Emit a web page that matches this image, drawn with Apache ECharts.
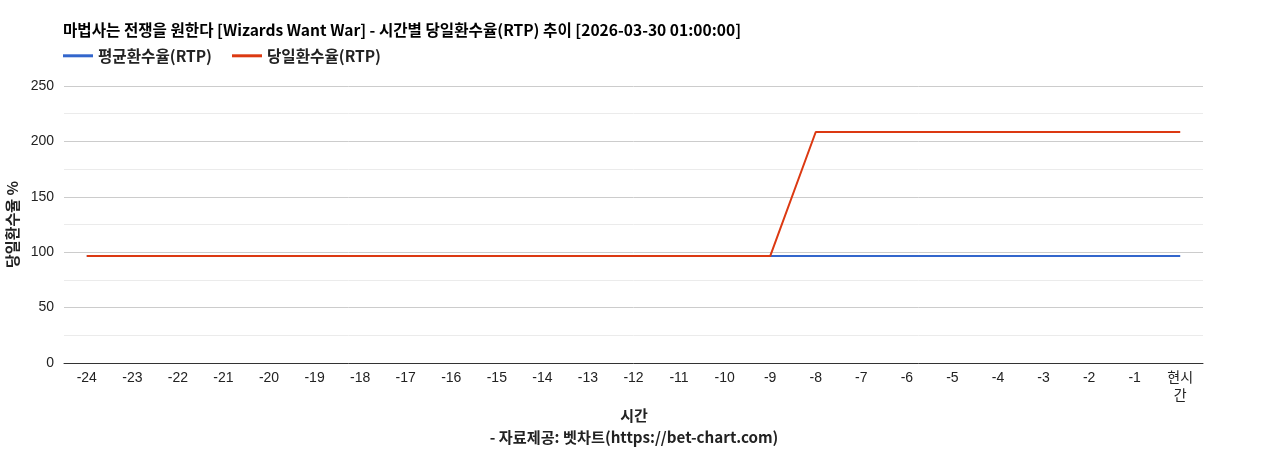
<!DOCTYPE html>
<html><head><meta charset="utf-8">
<script src="https://cdn.jsdelivr.net/npm/echarts@6/dist/echarts.min.js"></script>
<style>html,body{margin:0;padding:0;background:#fff}#c{width:1268px;height:450px}</style>
</head><body><div id="c"></div>
<script>
const categories = ['-24','-23','-22','-21','-20','-19','-18','-17','-16','-15','-14','-13','-12','-11','-10','-9','-8','-7','-6','-5','-4','-3','-2','-1','현시간'];
const avgRtp = [96.5,96.5,96.5,96.5,96.5,96.5,96.5,96.5,96.5,96.5,96.5,96.5,96.5,96.5,96.5,96.5,96.5,96.5,96.5,96.5,96.5,96.5,96.5,96.5,96.5];
const dayRtp = [96.5,96.5,96.5,96.5,96.5,96.5,96.5,96.5,96.5,96.5,96.5,96.5,96.5,96.5,96.5,96.5,208.5,208.5,208.5,208.5,208.5,208.5,208.5,208.5,208.5];
const yTicks = [0,50,100,150,200,250];
const FONT = '"Liberation Sans","Noto Sans CJK KR",Arial,sans-serif';
const BFONT = '"Noto Sans CJK KR","Noto Sans",sans-serif';
const chart = echarts.init(document.getElementById('c'));
chart.setOption({
  animation:false,
  textStyle:{fontFamily:FONT},
  title:[
    {text:'마법사는 전쟁을 원한다 [Wizards Want War] - 시간별 당일환수율(RTP) 추이 [2026-03-30 01:00:00]',left:58,top:17,textStyle:{fontSize:15.6,fontWeight:'bold',color:'#000',fontFamily:BFONT}},
    {text:'시간',left:'center',top:403,textStyle:{fontSize:15,fontWeight:'bold',color:'#222',fontFamily:BFONT}},
    {text:'- 자료제공: 벳차트(https://bet-chart.com)',left:'center',top:425,textStyle:{fontSize:15.2,fontWeight:'bold',color:'#222',fontFamily:BFONT}}
  ],
  legend:{left:58,top:43,itemWidth:30,itemHeight:3,itemGap:20,icon:'rect',
    textStyle:{fontSize:15.6,fontWeight:'bold',color:'#222',fontFamily:BFONT},
    data:['평균환수율(RTP)','당일환수율(RTP)']},
  grid:{left:64,right:65,top:86,bottom:87,outerBoundsMode:'none',containLabel:false},
  xAxis:{type:'category',data:categories,boundaryGap:true,
    axisLine:{lineStyle:{color:'#333'}},axisTick:{show:false},
    axisLabel:{color:'#222',fontSize:14,interval:0,margin:6,lineHeight:18,
      formatter:v=>v==='현시간'?'현시\n간':v}},
  yAxis:{type:'value',min:yTicks[0],max:yTicks[yTicks.length-1],interval:50,
    name:'당일환수율 %',nameLocation:'middle',nameGap:40,nameRotate:90,
    nameTextStyle:{fontSize:15,fontWeight:'bold',color:'#222',fontFamily:BFONT},
    axisLine:{show:false},axisTick:{show:false},
    axisLabel:{color:'#222',fontSize:14,margin:10},
    splitLine:{lineStyle:{color:'#cccccc'}},
    minorTick:{show:false,splitNumber:2},
    minorSplitLine:{show:true,lineStyle:{color:'#ebebeb'}}},
  series:[
    {name:'평균환수율(RTP)',type:'line',data:avgRtp,symbol:'none',lineStyle:{width:2,color:'#3366cc'},itemStyle:{color:'#3366cc'}},
    {name:'당일환수율(RTP)',type:'line',data:dayRtp,symbol:'none',lineStyle:{width:2,color:'#dc3912'},itemStyle:{color:'#dc3912'}}
  ]
});
</script></body></html>
